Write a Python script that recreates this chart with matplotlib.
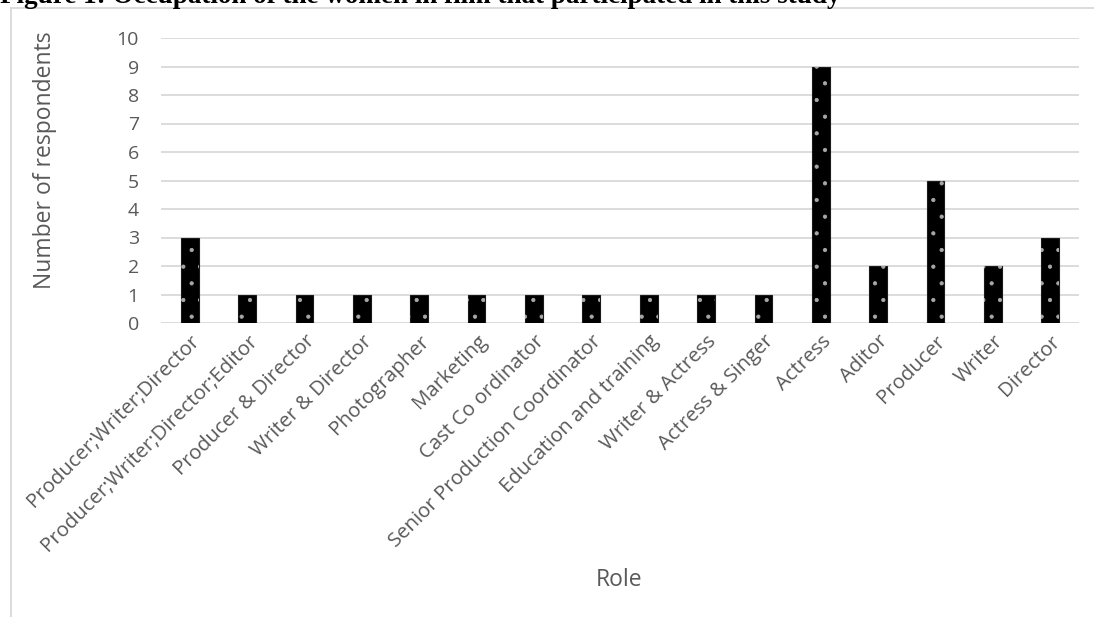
import matplotlib
matplotlib.use("Agg")
import matplotlib.pyplot as plt
from matplotlib.lines import Line2D

roles = [
    "Producer;Writer;Director", "Producer;Writer;Director;Editor",
    "Producer & Director", "Writer & Director", "Photographer", "Marketing",
    "Cast Co ordinator", "Senior Production Coordinator",
    "Education and training", "Writer & Actress", "Actress & Singer",
    "Actress", "Aditor", "Producer", "Writer", "Director",
]
respondents = [3, 1, 1, 1, 1, 1, 1, 1, 1, 1, 1, 9, 2, 5, 2, 3]
y_ticks = list(range(0, 11))

title = "Figure 1: Occupation of the women in film that participated in this study"

W, H = 1094, 617
plt.rcParams["hatch.linewidth"] = 0.6
fig = plt.figure(figsize=(W / 100, H / 100), dpi=100)

text_gray = "#595959"
grid_gray = "#d9d9d9"
font = "Open Sans"

# Frame around the chart area (top and left edges visible)
fig.add_artist(Line2D([11 / W, 1.0], [1 - 8 / H, 1 - 8 / H], color=grid_gray, lw=1.3,
                      transform=fig.transFigure))
fig.add_artist(Line2D([11 / W, 11 / W], [0.0, 1 - 8 / H], color=grid_gray, lw=1.3,
                      transform=fig.transFigure))

# Caption running off the top edge
fig.text(0.0, 1 - 3 / H, title, family="Liberation Serif", weight="bold",
         fontsize=19.5, ha="left", va="baseline", color="black")

ax = fig.add_axes([161 / W, 1 - 323 / H, (1079 - 161) / W, (323 - 38) / H])
x = list(range(len(roles)))
ax.bar(x, respondents, width=0.31, color="black", edgecolor="#1a1a1a", lw=0.8, zorder=3)
ax.bar(x, respondents, width=0.31, color="none", edgecolor="#a8a8a8", hatch=".",
       lw=0, zorder=4)

ax.set_xlim(-0.5, len(roles) - 0.5)
ax.set_ylim(0, 10)
ax.set_yticks(y_ticks)
ax.yaxis.grid(True, color=grid_gray, lw=1.3, zorder=0)
ax.set_axisbelow(True)
for s in ["top", "right", "left", "bottom"]:
    ax.spines[s].set_visible(False)
ax.tick_params(axis="both", length=0, colors=text_gray)
ax.tick_params(axis="y", pad=16, labelsize=14)
ax.tick_params(axis="x", pad=6, labelsize=14.7)

ax.set_xticks(x)
ax.set_xticklabels(roles, rotation=45, ha="right", rotation_mode="anchor", family=font)
for lbl in ax.get_yticklabels():
    lbl.set_family(font)

fig.text(45 / W, 1 - 160 / H, "Number of respondents", rotation=90, ha="center",
         va="center", fontsize=16.5, color=text_gray, family=font)
fig.text(619 / W, 1 - 580 / H, "Role", ha="center", va="center", fontsize=16.5,
         color=text_gray, family=font)

fig.savefig("out.png", dpi=100, facecolor="white")
